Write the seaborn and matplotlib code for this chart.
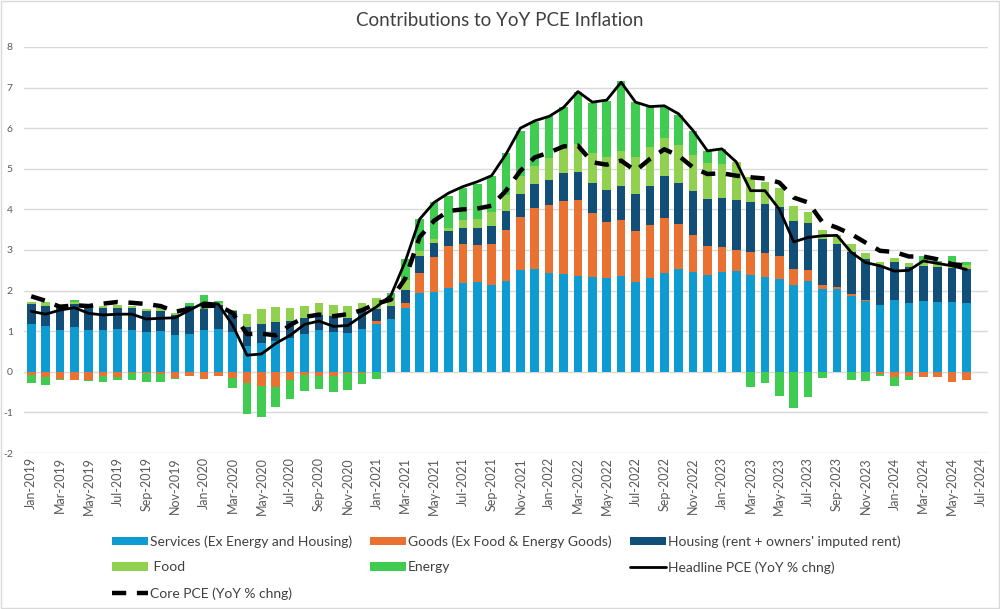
import numpy as np
import pandas as pd
import matplotlib
matplotlib.use("Agg")
import matplotlib.pyplot as plt
from matplotlib.patches import Rectangle, Patch
from matplotlib.lines import Line2D
import seaborn as sns

# ---------------- data ----------------
months = pd.date_range("2019-01-01", "2024-06-01", freq="MS")
tick_months = pd.date_range("2019-01-01", "2024-07-01", freq="2MS")

services = [1.19, 1.12, 1.03, 1.11, 1.04, 1.03, 1.05, 1.04, 0.97, 1.00, 0.90, 0.94,
            1.03, 1.06, 0.97, 0.64, 0.72, 0.75, 0.84, 0.92, 1.02, 0.98, 0.95, 1.05,
            1.17, 1.29, 1.57, 1.94, 1.97, 2.07, 2.18, 2.20, 2.14, 2.24, 2.50, 2.53,
            2.44, 2.41, 2.36, 2.34, 2.32, 2.36, 2.20, 2.31, 2.44, 2.52, 2.45, 2.38,
            2.47, 2.49, 2.38, 2.34, 2.29, 2.15, 2.24, 2.05, 2.05, 1.87, 1.74, 1.64,
            1.78, 1.69, 1.74, 1.71, 1.71, 1.70]
goods = [-0.07, -0.13, -0.17, -0.21, -0.20, -0.10, -0.12, -0.02, -0.03, -0.05, -0.15, -0.11,
         -0.18, -0.10, -0.14, -0.28, -0.34, -0.38, -0.20, -0.08, -0.10, -0.10, -0.03, -0.02,
         0.07, 0.00, 0.13, 0.50, 0.86, 1.03, 0.96, 0.93, 1.00, 1.24, 1.32, 1.50,
         1.66, 1.80, 1.87, 1.58, 1.37, 1.37, 1.27, 1.31, 1.34, 1.11, 0.92, 0.72,
         0.61, 0.52, 0.57, 0.58, 0.56, 0.39, 0.26, 0.10, 0.03, 0.05, 0.04, -0.05,
         -0.12, -0.09, -0.12, -0.13, -0.25, -0.21]
housing = [0.48, 0.51, 0.60, 0.56, 0.55, 0.54, 0.53, 0.53, 0.53, 0.51, 0.50, 0.67,
           0.51, 0.59, 0.52, 0.46, 0.47, 0.47, 0.41, 0.41, 0.37, 0.39, 0.37, 0.49,
           0.30, 0.33, 0.31, 0.40, 0.35, 0.37, 0.39, 0.41, 0.45, 0.49, 0.56, 0.59,
           0.63, 0.68, 0.70, 0.73, 0.79, 0.85, 0.91, 0.96, 1.03, 1.03, 1.09, 1.16,
           1.19, 1.23, 1.22, 1.22, 1.22, 1.18, 1.16, 1.11, 1.06, 1.02, 0.99, 0.97,
           0.93, 0.88, 0.87, 0.87, 0.84, 0.82]
food = [0.06, 0.10, 0.04, 0.05, 0.07, 0.04, 0.06, 0.05, 0.05, 0.06, 0.06, 0.02,
        0.05, 0.04, 0.04, 0.32, 0.36, 0.37, 0.33, 0.29, 0.31, 0.27, 0.29, 0.15,
        0.27, 0.20, 0.25, 0.13, 0.10, 0.08, 0.21, 0.23, 0.35, 0.38, 0.45, 0.45,
        0.54, 0.64, 0.68, 0.75, 0.82, 0.86, 0.92, 0.96, 0.95, 0.92, 0.88, 0.88,
        0.85, 0.92, 0.62, 0.54, 0.46, 0.37, 0.28, 0.23, 0.22, 0.20, 0.15, 0.10,
        0.10, 0.10, 0.09, 0.08, 0.06, 0.12]
energy = [-0.21, -0.20, -0.02, 0.04, -0.02, -0.15, -0.09, -0.19, -0.23, -0.21, -0.02, 0.07,
          0.31, 0.06, -0.26, -0.75, -0.77, -0.49, -0.47, -0.38, -0.32, -0.40, -0.41, -0.28,
          -0.17, 0.11, 0.51, 0.80, 0.89, 0.78, 0.78, 0.85, 0.87, 1.05, 1.11, 1.09,
          1.02, 0.98, 1.29, 1.21, 1.38, 1.73, 1.34, 0.97, 0.77, 0.74, 0.60, 0.30,
          0.37, 0.01, -0.37, -0.27, -0.60, -0.90, -0.63, -0.16, 0.00, -0.21, -0.23, -0.06,
          -0.22, -0.10, 0.15, 0.07, 0.24, 0.07]
headline = [1.49, 1.42, 1.52, 1.58, 1.44, 1.40, 1.42, 1.42, 1.30, 1.32, 1.33, 1.52,
            1.70, 1.67, 1.15, 0.41, 0.44, 0.70, 0.90, 1.17, 1.25, 1.12, 1.14, 1.38,
            1.60, 1.88, 2.72, 3.76, 4.17, 4.40, 4.56, 4.68, 4.83, 5.36, 6.00, 6.18,
            6.29, 6.51, 6.90, 6.64, 6.69, 7.13, 6.64, 6.53, 6.55, 6.35, 5.94, 5.44,
            5.49, 5.17, 4.46, 4.46, 4.00, 3.20, 3.31, 3.35, 3.36, 2.94, 2.69, 2.61,
            2.48, 2.50, 2.73, 2.67, 2.61, 2.52]
core = [1.86, 1.75, 1.60, 1.64, 1.62, 1.68, 1.72, 1.70, 1.67, 1.62, 1.48, 1.55,
        1.62, 1.63, 1.45, 0.93, 0.94, 0.90, 1.15, 1.35, 1.41, 1.37, 1.42, 1.52,
        1.68, 1.78, 2.30, 3.32, 3.72, 3.96, 4.00, 4.02, 4.09, 4.46, 4.95, 5.28,
        5.40, 5.55, 5.57, 5.16, 5.10, 5.20, 4.95, 5.24, 5.48, 5.32, 5.03, 4.87,
        4.89, 4.83, 4.79, 4.76, 4.66, 4.29, 4.17, 3.68, 3.55, 3.39, 3.18, 2.98,
        2.95, 2.84, 2.84, 2.77, 2.65, 2.62]

series_names = ["Services (Ex Energy and Housing)", "Goods (Ex Food & Energy Goods)",
                "Housing (rent + owners' imputed rent)", " Food", "Energy"]
series_vals = [services, goods, housing, food, energy]
colors = ["#0E9BD2", "#E97132", "#124F78", "#92D050", "#40CC50"]

# ---------------- style ----------------
sns.set_theme(style="white")
plt.rcParams["font.family"] = ["Lato", "DejaVu Sans"]
text_col = "#595959"

fig = plt.figure(figsize=(10.0, 6.09), dpi=100)
ax = fig.add_axes([0.024, 0.256, 0.964, 0.667])

x = np.arange(len(months))
pos_base = np.zeros(len(x))
neg_base = np.zeros(len(x))
for name, vals, col in zip(series_names, series_vals, colors):
    v = np.array(vals, dtype=float)
    pos = np.where(v > 0, v, 0.0)
    neg = np.where(v < 0, v, 0.0)
    ax.bar(x, pos, bottom=pos_base, width=0.6, color=col, linewidth=0, zorder=2)
    ax.bar(x, neg, bottom=neg_base, width=0.6, color=col, linewidth=0, zorder=2)
    pos_base += pos
    neg_base += neg

df = pd.DataFrame({"x": x, "headline": headline, "core": core})
sns.lineplot(data=df, x="x", y="headline", ax=ax, color="black", linewidth=2.0, zorder=4)
sns.lineplot(data=df, x="x", y="core", ax=ax, color="black", linewidth=3.2,
             linestyle=(0, (3.2, 2.4)), zorder=5)

ax.set_xlim(-0.5, 66.5)
ax.set_ylim(-2, 8)
ax.set_yticks(range(-2, 9))
ax.set_yticklabels([str(v) for v in range(-2, 9)], fontsize=7.5, color=text_col)
tick_pos = np.arange(0, 67, 2)
ax.set_xticks(tick_pos)
ax.set_xticklabels([d.strftime("%b-%Y") for d in tick_months], rotation=90,
                   fontsize=9, color=text_col)
ax.tick_params(axis="both", length=0, pad=3)
ax.tick_params(axis="y", pad=8)
ax.grid(axis="y", color="#D9D9D9", linewidth=1.0, zorder=0)
ax.set_axisbelow(True)
for s in ax.spines.values():
    s.set_visible(False)
ax.set_xlabel("")
ax.set_ylabel("")

fig.text(0.5, 0.967, "Contributions to YoY PCE Inflation", ha="center", va="center",
         fontsize=13.5, color="#404040")

# legend, three columns placed explicitly
def patch(c):
    return Patch(facecolor=c, edgecolor="none")

headline_h = Line2D([], [], color="black", linewidth=2.0)
core_h = Line2D([], [], color="black", linewidth=3.2, linestyle=(0, (3.2, 2.4)))
cols = [
    ([patch(colors[0]), patch(colors[3]), core_h],
     [series_names[0], series_names[3], "Core PCE (YoY % chng)"], 0.112),
    ([patch(colors[1]), patch(colors[4])], [series_names[1], series_names[4]], 0.370),
    ([patch(colors[2]), headline_h], [series_names[2], "Headline PCE (YoY % chng)"], 0.630),
]
for handles, labels, xpos in cols:
    fig.legend(handles, labels, loc="upper left", bbox_to_anchor=(xpos, 0.121),
               frameon=False, fontsize=10, labelcolor="#404040",
               handlelength=2.6, handleheight=0.6, handletextpad=0.1,
               labelspacing=0.98, borderaxespad=0, borderpad=0)

fig.patches.append(Rectangle((0.001, 0.001), 0.998, 0.998, transform=fig.transFigure,
                             fill=False, edgecolor="#D9D9D9", linewidth=1.0))

fig.savefig("out.png", dpi=100)
